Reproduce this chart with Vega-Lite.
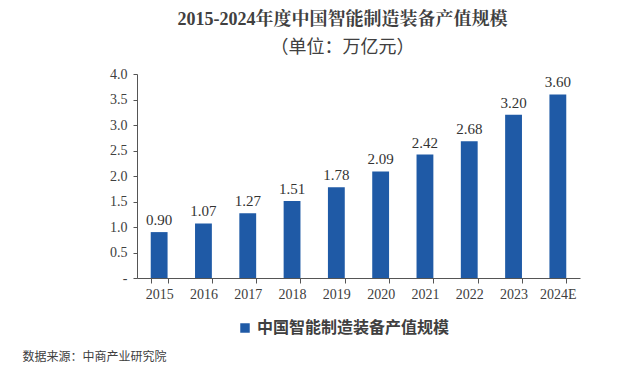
{
  "$schema": "https://vega.github.io/schema/vega-lite/v6.json",
  "width": 443,
  "height": 204,
  "autosize": {"type": "none"},
  "padding": {"left": 137, "top": 74, "right": 60, "bottom": 93},
  "background": "white",
  "title": {
    "text": "2015-2024年度中国智能制造装备产值规模",
    "subtitle": "（单位：万亿元）",
    "anchor": "middle",
    "dx": -16,
    "offset": 10,
    "font": "Liberation Serif, Noto Serif CJK SC, Noto Sans CJK SC",
    "fontSize": 18,
    "fontWeight": "bold",
    "color": "#404040",
    "subtitleFont": "Liberation Serif, Noto Sans CJK SC",
    "subtitleFontSize": 18,
    "subtitleColor": "#404040",
    "subtitlePadding": 10
  },
  "data": {
    "values": [
      {"year": "2015", "value": 0.90, "series": "中国智能制造装备产值规模"},
      {"year": "2016", "value": 1.07, "series": "中国智能制造装备产值规模"},
      {"year": "2017", "value": 1.27, "series": "中国智能制造装备产值规模"},
      {"year": "2018", "value": 1.51, "series": "中国智能制造装备产值规模"},
      {"year": "2019", "value": 1.78, "series": "中国智能制造装备产值规模"},
      {"year": "2020", "value": 2.09, "series": "中国智能制造装备产值规模"},
      {"year": "2021", "value": 2.42, "series": "中国智能制造装备产值规模"},
      {"year": "2022", "value": 2.68, "series": "中国智能制造装备产值规模"},
      {"year": "2023", "value": 3.20, "series": "中国智能制造装备产值规模"},
      {"year": "2024E", "value": 3.60, "series": "中国智能制造装备产值规模"}
    ]
  },
  "encoding": {
    "x": {
      "field": "year",
      "type": "nominal",
      "sort": null,
      "scale": {"paddingInner": 0.62, "paddingOuter": 0.31},
      "axis": {
        "title": "数据来源：中商产业研究院",
        "titleAnchor": "start",
        "titleX": -115,
        "titleY": 73,
        "titleFont": "Liberation Serif, Noto Sans CJK SC",
        "titleFontSize": 12,
        "titleFontWeight": "normal",
        "titleColor": "#404040",
        "labelAngle": 0,
        "labelFont": "Liberation Serif",
        "labelFontSize": 14,
        "labelColor": "#404040",
        "labelPadding": 4,
        "domainColor": "#555555",
        "tickColor": "#555555",
        "tickBand": "extent",
        "tickSize": 5
      }
    },
    "y": {
      "field": "value",
      "type": "quantitative",
      "scale": {"domain": [0, 4]},
      "axis": {
        "title": null,
        "values": [0, 0.5, 1, 1.5, 2, 2.5, 3, 3.5, 4],
        "labelExpr": "datum.value == 0 ? '-' : format(datum.value, '.1f')",
        "grid": false,
        "labelFont": "Liberation Serif",
        "labelFontSize": 14,
        "labelColor": "#404040",
        "labelPadding": 6,
        "domainColor": "#555555",
        "tickColor": "#555555",
        "tickSize": 4
      }
    }
  },
  "layer": [
    {
      "mark": {"type": "bar", "color": "#1F5AA6"},
      "encoding": {
        "color": {
          "field": "series",
          "type": "nominal",
          "scale": {"range": ["#1F5AA6"]},
          "legend": {
            "title": null,
            "orient": "none",
            "legendX": 100,
            "legendY": 246,
            "symbolType": "square",
            "symbolSize": 90,
            "labelFont": "Noto Sans CJK SC",
            "labelFontSize": 16,
            "labelFontWeight": "bold",
            "labelColor": "#404040",
            "labelOffset": 4,
            "labelLimit": 400
          }
        }
      }
    },
    {
      "mark": {
        "type": "text",
        "dy": -12,
        "font": "Liberation Serif",
        "fontSize": 15,
        "color": "#333333"
      },
      "encoding": {
        "text": {"field": "value", "type": "quantitative", "format": ".2f"}
      }
    }
  ],
  "config": {"view": {"stroke": null}}
}
